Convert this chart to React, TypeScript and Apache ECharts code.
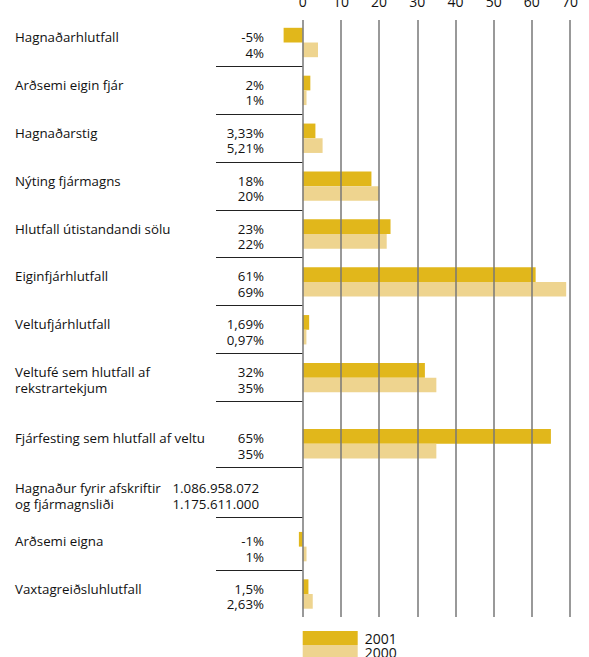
import React, { useEffect, useRef } from 'react';
import * as echarts from 'echarts';

// ---- data ----
const categories = [
  'Hagnaðarhlutfall',
  'Arðsemi eigin fjár',
  'Hagnaðarstig',
  'Nýting fjármagns',
  'Hlutfall útistandandi sölu',
  'Eiginfjárhlutfall',
  'Veltufjárhlutfall',
  'Veltufé sem hlutfall af\nrekstrartekjum',
  'Fjárfesting sem hlutfall af veltu',
  'Hagnaður fyrir afskriftir\nog fjármagnsliði',
  'Arðsemi eigna',
  'Vaxtagreiðsluhlutfall',
];
const values2001: (number | null)[] = [-5, 2, 3.33, 18, 23, 61, 1.69, 32, 65, null, -1, 1.5];
const values2000: (number | null)[] = [4, 1, 5.21, 20, 22, 69, 0.97, 35, 35, null, 1, 2.63];
const text2001 = ['-5%', '2%', '3,33%', '18%', '23%', '61%', '1,69%', '32%', '65%', '1.086.958.072', '-1%', '1,5%'];
const text2000 = ['4%', '1%', '5,21%', '20%', '22%', '69%', '0,97%', '35%', '35%', '1.175.611.000', '1%', '2,63%'];
const seriesNames = ['2001', '2000'];
const axisMin = 0;
const axisMax = 70;
const axisStep = 10;

// ---- layout (row placement in row units) ----
const rowPos = [0, 1, 2, 3, 4, 5, 6, 7, 8.38, 9.43, 10.53, 11.52];
const colors = ['#E1B71B', '#EED48F'];
const FONT = '"Open Sans", "Noto Sans", sans-serif';
const FS = 13.3;
const BAR_UNITS = 0.307;

function barRenderer(upper: boolean, color: string) {
  return (params: any, api: any) => {
    const v = api.value(0) as number;
    const r = api.value(1) as number;
    const base = api.coord([0, r]);
    const end = api.coord([v, r]);
    const h = api.size([0, BAR_UNITS])[1];
    return {
      type: 'rect',
      shape: {
        x: Math.min(base[0], end[0]),
        y: upper ? base[1] - h : base[1],
        width: Math.abs(end[0] - base[0]),
        height: h,
      },
      style: { fill: color },
    };
  };
}

function txt(x: number, y: number, text: string, align: string) {
  return {
    type: 'text',
    style: { x, y, text, fill: '#111', fontSize: FS, lineHeight: 15, fontFamily: FONT, align, verticalAlign: 'middle' },
  };
}

function labelRenderer(params: any, api: any) {
  const i = params.dataIndex;
  const c = api.coord([0, rowPos[i]]);
  const sep = api.coord([0, rowPos[i] + 0.49]);
  const y1 = c[1] - 5.5;
  const lh = 15.5;
  const children: any[] = [];
  categories[i].split('\n').forEach((t, k) => {
    children.push(txt(15, y1 + k * lh, t, 'left'));
  });
  const vx = i === 9 ? 259 : 264;
  children.push(txt(vx, y1, text2001[i], 'right'));
  children.push(txt(vx, y1 + lh, text2000[i], 'right'));
  if (i < categories.length - 1) {
    children.push({
      type: 'line',
      shape: { x1: 216, y1: Math.round(sep[1]) + 0.5, x2: c[0], y2: Math.round(sep[1]) + 0.5 },
      style: { stroke: '#222', lineWidth: 1 },
    });
  }
  return { type: 'group', children };
}

export default function App() {
  const ref = useRef<HTMLDivElement>(null);
  useEffect(() => {
    document.body.style.margin = '0';
    if (!ref.current) return;
    const chart = echarts.init(ref.current, null, { renderer: 'svg' });
    const toData = (vals: (number | null)[]) =>
      vals.map((v, i) => (v == null ? null : [v, rowPos[i]])).filter((d) => d !== null);
    chart.setOption({
      animation: false,
      grid: { left: 302.7, right: 19, top: 20, bottom: 40, outerBoundsMode: 'none', containLabel: false },
      legend: {
        data: seriesNames,
        orient: 'vertical',
        left: 302.7,
        top: 631,
        height: 60,
        itemWidth: 55,
        itemHeight: 14,
        itemGap: 0,
        icon: 'rect',
        selectedMode: false,
        textStyle: { fontSize: 14, fontFamily: FONT, color: '#111', lineHeight: 13, padding: [0, 0, 0, 2] },
        padding: 0,
      },
      xAxis: {
        type: 'value',
        position: 'top',
        min: axisMin,
        max: axisMax,
        interval: axisStep,
        z: 5,
        axisLine: { show: false },
        axisTick: { show: false },
        axisLabel: { fontSize: 14, fontFamily: FONT, color: '#111', margin: 12 },
        splitLine: { show: true, lineStyle: { color: '#777', width: 1.5 } },
      },
      yAxis: {
        type: 'value',
        inverse: true,
        min: -0.47,
        max: 12,
        show: false,
        splitLine: { show: false },
      },
      series: [
        {
          name: seriesNames[0],
          type: 'custom',
          z: 1,
          itemStyle: { color: colors[0] },
          encode: { x: 0, y: 1 },
          renderItem: barRenderer(true, colors[0]),
          data: toData(values2001),
        },
        {
          name: seriesNames[1],
          type: 'custom',
          z: 1,
          itemStyle: { color: colors[1] },
          encode: { x: 0, y: 1 },
          renderItem: barRenderer(false, colors[1]),
          data: toData(values2000),
        },
        {
          name: 'labels',
          type: 'custom',
          z: 1,
          silent: true,
          encode: { x: 0, y: 1 },
          renderItem: labelRenderer,
          data: categories.map((_, i) => [0, rowPos[i]]),
        },
      ],
    });
    return () => chart.dispose();
  }, []);
  return <div ref={ref} style={{ width: 589, height: 657 }} />;
}
